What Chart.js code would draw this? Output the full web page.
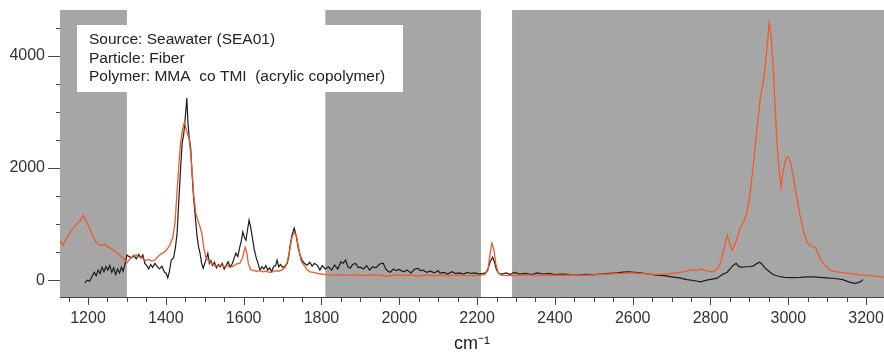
<!DOCTYPE html>
<html>
<head>
<meta charset="utf-8">
<script src="https://cdn.jsdelivr.net/npm/chart.js@4.4.1/dist/chart.umd.min.js"></script>
<style>
    body { margin: 0; background: #fff; }
    #wrap { width: 884px; height: 356px; position: relative; }
</style>
</head>
<body>
<div id="wrap"><canvas id="spectrumChart"></canvas></div>
<script>
// reference polymer spectrum (orange)
const refWavenumbers = [1128, 1135, 1145, 1155, 1165, 1175, 1182, 1188, 1195, 1202, 1210, 1218, 1226, 1234, 1244, 1252, 1260, 1268, 1276, 1284, 1292, 1300,
    1308, 1316, 1324, 1332, 1340, 1348, 1356, 1364, 1372, 1380, 1388, 1396, 1404, 1410, 1418, 1424, 1429, 1434, 1438, 1443, 1448, 1452, 1456, 1460,
    1464, 1468, 1472, 1477, 1482, 1488, 1493, 1498, 1503, 1510, 1518, 1526, 1534, 1542, 1550, 1558, 1566, 1574, 1582, 1590, 1596, 1600, 1604, 1608,
    1612, 1618, 1626, 1634, 1642, 1650, 1658, 1666, 1674, 1682, 1690, 1698, 1706, 1712, 1718, 1724, 1730, 1736, 1742, 1748, 1754, 1762, 1770, 1780,
    1790, 1800, 1810, 1830, 1850, 1870, 1890, 1910, 1930, 1950, 1970, 1990, 2010, 2030, 2050, 2070, 2090, 2110, 2130, 2150, 2170, 2190, 2210, 2220,
    2228, 2233, 2238, 2243, 2248, 2254, 2262, 2275, 2300, 2330, 2360, 2390, 2420, 2450, 2480, 2510, 2540, 2570, 2600, 2630, 2660, 2690, 2710, 2730,
    2750, 2765, 2775, 2790, 2805, 2815, 2825, 2835, 2843, 2850, 2856, 2866, 2876, 2886, 2894, 2902, 2910, 2918, 2928, 2936, 2941, 2946, 2951, 2955,
    2961, 2966, 2971, 2976, 2981, 2987, 2994, 3000, 3006, 3012, 3020, 3030, 3040, 3048, 3056, 3062, 3069, 3076, 3082, 3092, 3107, 3125, 3151, 3180,
    3210, 3246];
const refIntensity = [700, 620, 750, 860, 950, 1030, 1080, 1160, 1050, 960, 820, 700, 640, 620, 640, 590, 560, 520, 480, 430, 380, 310,
    380, 440, 450, 410, 390, 350, 370, 340, 360, 420, 470, 500, 560, 620, 760, 1050, 1600, 2100, 2450, 2700, 2820, 2700, 2600, 2520,
    2250, 1900, 1500, 1200, 1080, 950, 820, 560, 400, 350, 300, 260, 250, 270, 240, 260, 230, 250, 290, 300, 380, 480, 590, 500,
    300, 190, 170, 160, 170, 150, 160, 140, 150, 170, 160, 180, 220, 320, 520, 760, 860, 780, 560, 340, 280, 200, 150, 140,
    120, 110, 100, 90, 100, 85, 95, 80, 100, 90, 70, 95, 85, 90, 75, 95, 80, 90, 80, 95, 85, 80, 90, 100,
    180, 450, 660, 560, 300, 140, 90, 80, 85, 95, 80, 90, 85, 95, 90, 100, 110, 120, 130, 115, 100, 110, 130, 150,
    185, 170, 200, 165, 150, 180, 300, 560, 800, 650, 535, 700, 930, 1050, 1215, 1550, 2050, 2600, 3250, 3550, 3840, 4200, 4590, 4400,
    3840, 3100, 2460, 2000, 1660, 1950, 2175, 2200, 2100, 1875, 1550, 1160, 850, 680, 620, 600, 590, 480, 390, 280, 180, 150, 125, 100,
    80, 54];

// particle spectrum (black)
const sampleWavenumbers = [1192, 1198, 1204, 1210, 1216, 1221, 1226, 1231, 1236, 1241, 1246, 1251, 1256, 1261, 1266, 1271, 1276, 1281, 1286, 1290,
    1295, 1300, 1306, 1312, 1318, 1324, 1330, 1336, 1341, 1346, 1351, 1356, 1361, 1366, 1372, 1378, 1384, 1390, 1396, 1401, 1405, 1409, 1414, 1420,
    1425, 1429, 1434, 1438, 1442, 1446, 1450, 1454, 1457, 1460, 1464, 1467, 1471, 1475, 1480, 1484, 1488, 1492, 1496, 1500, 1504, 1508, 1512, 1516,
    1520, 1525, 1530, 1535, 1540, 1545, 1550, 1555, 1560, 1565, 1570, 1575, 1580, 1585, 1590, 1594, 1598, 1602, 1606, 1610, 1614, 1618, 1622, 1627,
    1632, 1637, 1642, 1647, 1652, 1657, 1662, 1667, 1672, 1677, 1682, 1686, 1690, 1695, 1700, 1706, 1712, 1716, 1719, 1724, 1730, 1735, 1740, 1745,
    1750, 1756, 1763, 1770, 1776, 1782, 1790, 1796, 1802, 1810, 1818, 1826, 1834, 1842, 1850, 1856, 1862, 1868, 1874, 1880, 1888, 1894, 1900, 1908,
    1916, 1924, 1932, 1940, 1948, 1954, 1959, 1965, 1971, 1977, 1985, 1992, 2000, 2010, 2020, 2030, 2040, 2048, 2055, 2061, 2070, 2080, 2090, 2100,
    2105, 2115, 2125, 2135, 2145, 2155, 2165, 2175, 2185, 2195, 2205, 2215, 2222, 2228, 2234, 2240, 2245, 2250, 2256, 2264, 2275, 2285, 2295, 2310,
    2325, 2340, 2355, 2370, 2385, 2400, 2420, 2440, 2460, 2480, 2500, 2520, 2540, 2560, 2576, 2590, 2605, 2620, 2640, 2660, 2680, 2700, 2720, 2740,
    2760, 2775, 2790, 2805, 2817, 2830, 2843, 2856, 2866, 2872, 2880, 2890, 2902, 2912, 2920, 2926, 2932, 2940, 2950, 2961, 2975, 2990, 3010, 3030,
    3050, 3064, 3080, 3100, 3120, 3140, 3159, 3172, 3185, 3192];
const sampleIntensity = [-50, 0, -20, 60, 140, 80, 180, 120, 230, 150, 240, 180, 260, 140, 220, 100, 200, 130, 230, 160,
    280, 450, 420, 400, 440, 380, 460, 400, 450, 300, 260, 200, 280, 230, 300, 240, 200, 250, 150, 120, 40, 150, 360, 400,
    600, 840, 1500, 2000, 2450, 2600, 2900, 3250, 2800, 2550, 2350, 1960, 1500, 1200, 800, 600, 480, 300, 214, 300, 380, 480, 300, 350,
    260, 320, 220, 280, 240, 300, 200, 260, 330, 240, 280, 380, 480, 420, 590, 700, 860, 760, 714, 900, 1070, 950, 780, 560,
    410, 300, 180, 240, 200, 260, 180, 220, 150, 240, 260, 357, 240, 280, 230, 250, 300, 420, 590, 800, 930, 800, 590, 450,
    357, 300, 268, 320, 250, 300, 260, 180, 260, 200, 240, 180, 270, 200, 330, 300, 360, 240, 214, 280, 300, 230, 232, 200,
    260, 180, 240, 220, 280, 300, 300, 200, 160, 143, 200, 170, 190, 150, 180, 130, 200, 210, 170, 180, 140, 160, 130, 170,
    125, 140, 110, 150, 120, 130, 110, 140, 120, 130, 110, 120, 130, 200, 330, 410, 320, 180, 120, 110, 130, 100, 140, 110,
    120, 100, 130, 110, 120, 100, 110, 100, 95, 105, 100, 110, 120, 130, 143, 150, 140, 130, 110, 90, 80, 60, 40, 10,
    -10, -30, 0, 20, 36, 100, 143, 250, 300, 250, 230, 240, 240, 260, 300, 320, 290, 220, 160, 100, 70, 50, 45, 50,
    60, 60, 50, 40, 30, 10, -40, -55, -30, 10];

// masked (grey) wavenumber ranges
const maskFrom = [1128, 1810, 2290];
const maskTo = [1300, 2210, 3246];

const infoLines = ['Source: Seawater (SEA01)', 'Particle: Fiber', 'Polymer: MMA  co TMI  (acrylic copolymer)'];

const xMin = 1128, xMax = 3246;
const yMin = -300, yMax = 4820;

const toPoints = (xs, ys) => xs.map((v, i) => ({x: v, y: ys[i]}));

const tickFont = {family: "'Liberation Sans', Arial, sans-serif", size: 16};

const backgroundPlugin = {
    id: 'maskBands',
    beforeDatasetsDraw(chart) {
        const {ctx, chartArea, scales: {x}} = chart;
        ctx.save();
        ctx.fillStyle = '#a6a6a6';
        maskFrom.forEach((from, i) => {
            const x1 = x.getPixelForValue(from);
            const x2 = x.getPixelForValue(maskTo[i]);
            ctx.fillRect(x1, chartArea.top, x2 - x1, chartArea.bottom - chartArea.top);
        });
        // info box
        ctx.fillStyle = '#ffffff';
        ctx.fillRect(77, 25, 326, 67);
        ctx.fillStyle = '#222';
        ctx.font = "15.5px 'Liberation Sans', Arial, sans-serif";
        ctx.textBaseline = 'middle';
        infoLines.forEach((line, i) => ctx.fillText(line, 89, 40 + i * 18.5));
        ctx.restore();
    }
};

// major/minor tick marks
const tickMarksPlugin = {
    id: 'tickMarks',
    afterDraw(chart) {
        const {ctx, scales: {x, y}} = chart;
        ctx.save();
        ctx.strokeStyle = '#444';
        ctx.lineWidth = 1;
        x.ticks.forEach(t => {
            const px = Math.round(x.getPixelForValue(t.value)) + 0.5;
            const len = t.value % 200 === 0 ? 8 : 5;
            ctx.beginPath();
            ctx.moveTo(px, x.top);
            ctx.lineTo(px, x.top + len);
            ctx.stroke();
        });
        y.ticks.forEach(t => {
            const py = Math.round(y.getPixelForValue(t.value)) + 0.5;
            const len = t.value % 2000 === 0 ? 12 : 4;
            ctx.beginPath();
            ctx.moveTo(y.right, py);
            ctx.lineTo(y.right - len, py);
            ctx.stroke();
        });
        ctx.restore();
    }
};

new Chart(document.getElementById('spectrumChart'), {
    type: 'line',
    data: {
        datasets: [{
            data: toPoints(refWavenumbers, refIntensity),
            borderColor: '#ef5a2b',
            borderWidth: 1.3
        }, {
            data: toPoints(sampleWavenumbers, sampleIntensity),
            borderColor: '#1c1c1c',
            borderWidth: 1.2
        }]
    },
    options: {
        responsive: true,
        maintainAspectRatio: false,
        animation: false,
        elements: {point: {radius: 0}, line: {tension: 0}},
        layout: {padding: {top: 10, right: 0, left: 0, bottom: 0}},
        plugins: {legend: {display: false}, tooltip: {enabled: false}},
        scales: {
            x: {
                type: 'linear',
                min: xMin,
                max: xMax,
                afterFit: scale => {
                    scale.height = 59;
                    scale.paddingLeft = 0;
                    scale.paddingRight = 0;
                },
                afterBuildTicks: scale => {
                    const ticks = [];
                    for (let v = 1150; v <= 3200; v += 50) ticks.push({value: v});
                    scale.ticks = ticks;
                },
                grid: {display: false, drawTicks: false},
                border: {display: true, color: '#444', width: 1},
                ticks: {
                    autoSkip: false,
                    maxRotation: 0,
                    padding: 12,
                    color: '#333',
                    font: tickFont,
                    callback: v => (v % 200 === 0 ? String(v) : '')
                },
                title: {
                    display: true,
                    text: 'cm⁻¹',
                    color: '#222',
                    font: {family: "'Liberation Sans', Arial, sans-serif", size: 18},
                    padding: {top: 0, bottom: 1}
                }
            },
            y: {
                min: yMin,
                max: yMax,
                afterFit: scale => {
                    scale.width = 60;
                    scale.paddingTop = 0;
                    scale.paddingBottom = 0;
                },
                afterBuildTicks: scale => {
                    const ticks = [];
                    for (let v = 0; v <= 4500; v += 500) ticks.push({value: v});
                    scale.ticks = ticks;
                },
                grid: {display: false, drawTicks: false},
                border: {display: true, color: '#444', width: 1},
                ticks: {
                    autoSkip: false,
                    padding: 15,
                    color: '#333',
                    font: tickFont,
                    callback: v => (v % 2000 === 0 ? String(v) : '')
                }
            }
        }
    },
    plugins: [backgroundPlugin, tickMarksPlugin]
});
</script>
</body>
</html>
